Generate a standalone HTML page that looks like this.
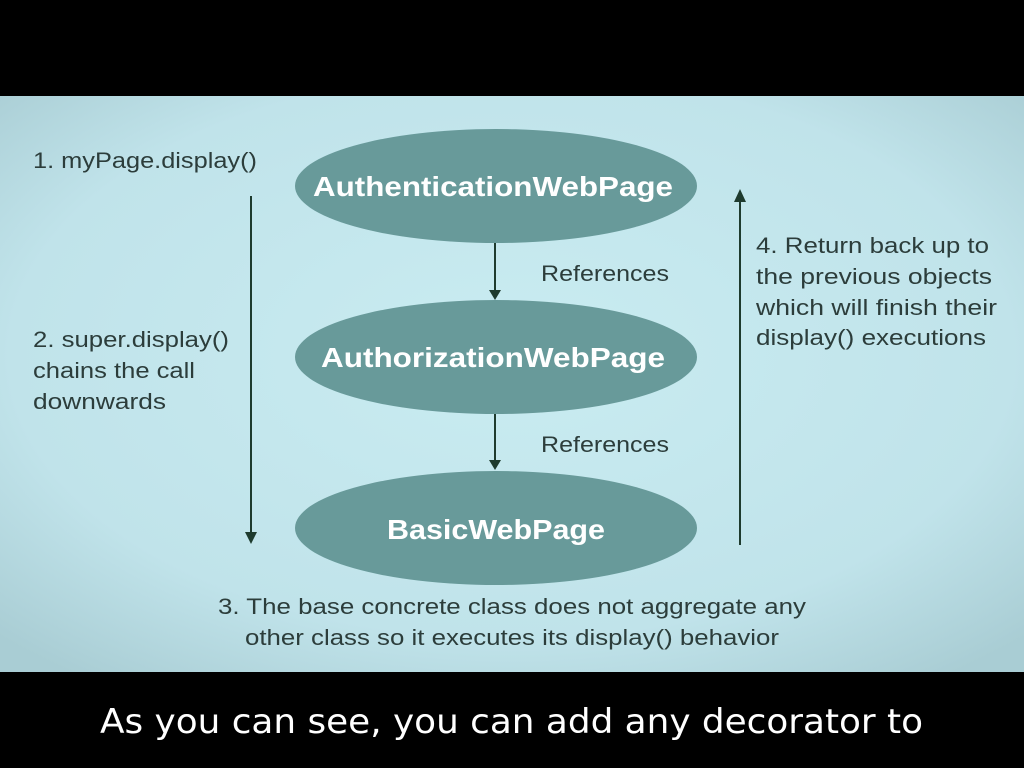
<!DOCTYPE html>
<html><head><meta charset="utf-8"><style>
html,body{margin:0;padding:0;background:#000;width:1024px;height:768px;overflow:hidden}
svg{display:block}
</style></head><body>
<svg width="1024" height="768" xmlns="http://www.w3.org/2000/svg" font-family="Liberation Sans, DejaVu Sans, sans-serif">
<defs>
<radialGradient id="bg" cx="50%" cy="45%" r="70%">
<stop offset="0" stop-color="#c9ecf1"/><stop offset="0.7" stop-color="#c0e3ea"/><stop offset="1" stop-color="#a9cdd4"/>
</radialGradient>
</defs>
<rect x="0" y="0" width="1024" height="96" fill="#000"/>
<rect x="0" y="96" width="1024" height="576" fill="url(#bg)"/>
<rect x="0" y="672" width="1024" height="96" fill="#000"/>
<g fill="#689a9a">
<ellipse cx="496" cy="186" rx="201" ry="57"/>
<ellipse cx="496" cy="357" rx="201" ry="57"/>
<ellipse cx="496" cy="528" rx="201" ry="57"/>
</g>
<g fill="#fff" font-size="28" font-weight="bold" lengthAdjust="spacingAndGlyphs">
<text x="313" y="196" textLength="360" lengthAdjust="spacingAndGlyphs">AuthenticationWebPage</text>
<text x="321" y="367" textLength="344" lengthAdjust="spacingAndGlyphs">AuthorizationWebPage</text>
<text x="387" y="539" textLength="218" lengthAdjust="spacingAndGlyphs">BasicWebPage</text>
</g>
<g stroke="#1e3b2e" stroke-width="2" fill="#1e3b2e">
<line x1="495" y1="243" x2="495" y2="292"/><polygon points="489,290 501,290 495,300" stroke="none"/>
<line x1="495" y1="414" x2="495" y2="462"/><polygon points="489,460 501,460 495,470" stroke="none"/>
<line x1="251" y1="196" x2="251" y2="535"/><polygon points="245,532 257,532 251,544" stroke="none"/>
<line x1="740" y1="200" x2="740" y2="545"/><polygon points="734,202 746,202 740,189" stroke="none"/>
</g>
<g fill="#2c3d3b" font-size="22">
<text x="541" y="281" textLength="128" lengthAdjust="spacingAndGlyphs">References</text>
<text x="541" y="452" textLength="128" lengthAdjust="spacingAndGlyphs">References</text>
<text x="33" y="168" textLength="224" lengthAdjust="spacingAndGlyphs">1. myPage.display()</text>
<text x="33" y="347" textLength="196" lengthAdjust="spacingAndGlyphs">2. super.display()</text>
<text x="33" y="378" textLength="162" lengthAdjust="spacingAndGlyphs">chains the call</text>
<text x="33" y="409" textLength="133" lengthAdjust="spacingAndGlyphs">downwards</text>
<text x="756" y="253" textLength="233" lengthAdjust="spacingAndGlyphs">4. Return back up to</text>
<text x="756" y="284" textLength="236" lengthAdjust="spacingAndGlyphs">the previous objects</text>
<text x="756" y="315" textLength="241" lengthAdjust="spacingAndGlyphs">which will finish their</text>
<text x="756" y="345" textLength="230" lengthAdjust="spacingAndGlyphs">display() executions</text>
<text x="218" y="614" textLength="588" lengthAdjust="spacingAndGlyphs">3. The base concrete class does not aggregate any</text>
<text x="245" y="645" textLength="534" lengthAdjust="spacingAndGlyphs">other class so it executes its display() behavior</text>
</g>
<text x="100" y="733" fill="#fff" font-size="34" textLength="823" lengthAdjust="spacingAndGlyphs" font-family="DejaVu Sans, sans-serif">As you can see, you can add any decorator to</text>
</svg>
</body></html>
